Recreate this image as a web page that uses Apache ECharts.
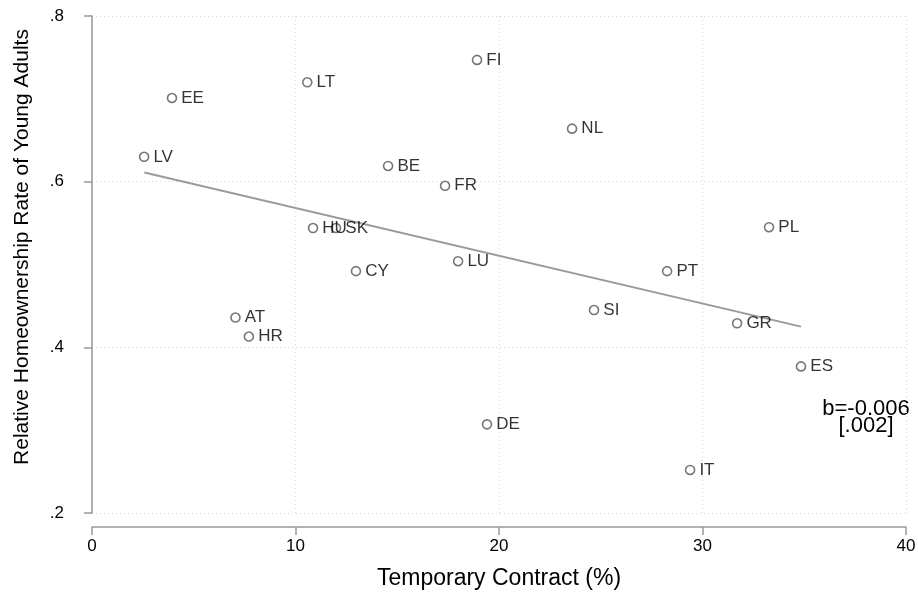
<!DOCTYPE html>
<html>
<head>
<meta charset="utf-8">
<script src="https://cdn.jsdelivr.net/npm/echarts@6/dist/echarts.min.js"></script>
<style>
  html, body { margin: 0; padding: 0; background: #fff; }
  #chart { width: 918px; height: 593px; }
</style>
</head>
<body>
<div id="chart"></div>
<script>
var countries = ['LV', 'EE', 'LT', 'FI', 'NL', 'BE', 'FR', 'HU', 'SK', 'CY', 'LU', 'PL', 'PT', 'SI', 'GR', 'AT', 'HR', 'ES', 'DE', 'IT'];
var tempContract = [2.56, 3.93, 10.58, 18.92, 23.59, 14.55, 17.35, 10.86, 11.99, 12.97, 17.99, 33.27, 28.26, 24.67, 31.70, 7.05, 7.71, 34.84, 19.41, 29.39];
var homeownRate = [0.630, 0.701, 0.720, 0.747, 0.664, 0.619, 0.595, 0.544, 0.544, 0.492, 0.504, 0.545, 0.492, 0.445, 0.429, 0.436, 0.413, 0.377, 0.307, 0.252];

// fitted line endpoints
var fitX = [2.57, 34.84];
var fitY = [0.611, 0.425];

var yTickLabels = { 0.2: '.2', 0.4: '.4', 0.6: '.6', 0.8: '.8' };

var fontFam = '"Liberation Sans", Arial, sans-serif';

var chart = echarts.init(document.getElementById('chart'));

var points = countries.map(function (c, i) {
    return { name: c, value: [tempContract[i], homeownRate[i]] };
});

var option = {
    animation: false,
    grid: { left: 92, right: 12, top: 16, bottom: 80, outerBoundsMode: 'none' },
    xAxis: {
        type: 'value',
        min: 0,
        max: 40,
        interval: 10,
        offset: 14,
        name: 'Temporary Contract (%)',
        nameLocation: 'middle',
        nameGap: 40,
        nameTextStyle: { fontFamily: fontFam, fontSize: 23, color: '#000' },
        axisLine: { show: true, lineStyle: { color: '#999', width: 1.5 } },
        axisTick: { show: true, length: 8, lineStyle: { color: '#999', width: 1.5 } },
        axisLabel: { fontFamily: fontFam, fontSize: 17, color: '#000', margin: 11 },
        splitLine: { show: true, lineStyle: { color: '#d8d8d8', type: [1, 3], width: 1 } }
    },
    yAxis: {
        type: 'value',
        min: 0.2,
        max: 0.8,
        interval: 0.2,
        offset: 15,
        axisLine: { show: true, lineStyle: { color: '#999', width: 1.5 } },
        axisTick: { show: true, length: 8, lineStyle: { color: '#999', width: 1.5 } },
        axisLabel: {
            fontFamily: fontFam, fontSize: 17, color: '#000', margin: 13,
            formatter: function (v) { return yTickLabels[Math.round(v * 10) / 10] || ''; }
        },
        splitLine: { show: true, lineStyle: { color: '#d8d8d8', type: [1, 3], width: 1 } }
    },
    series: [
        {
            type: 'line',
            data: fitX.map(function (x, i) { return [x, fitY[i]]; }),
            showSymbol: false,
            lineStyle: { color: '#9a9a9a', width: 2 },
            z: 1
        },
        {
            type: 'scatter',
            data: points,
            symbol: 'circle',
            symbolSize: 9,
            itemStyle: { color: '#fff', borderColor: '#555', borderWidth: 1.6 },
            label: {
                show: true,
                position: 'right',
                distance: 4,
                formatter: '{b}',
                fontFamily: fontFam,
                fontSize: 17,
                color: '#000'
            },
            z: 3
        }
    ],
    graphic: [
        {
            // y-axis title (Stata centres it a bit above the plot middle)
            type: 'text',
            x: 22,
            y: 247,
            rotation: Math.PI / 2,
            style: { text: 'Relative Homeownership Rate of Young Adults', font: '21px ' + fontFam, fill: '#000', align: 'center', verticalAlign: 'middle' }
        },
        {
            type: 'text',
            x: 866,
            y: 420,
            style: { text: 'b=-0.006', font: '22px ' + fontFam, fill: '#000', align: 'center', verticalAlign: 'bottom' }
        },
        {
            type: 'text',
            x: 866,
            y: 437,
            style: { text: '[.002]', font: '22px ' + fontFam, fill: '#000', align: 'center', verticalAlign: 'bottom' }
        }
    ]
};

chart.setOption(option);
</script>
</body>
</html>
